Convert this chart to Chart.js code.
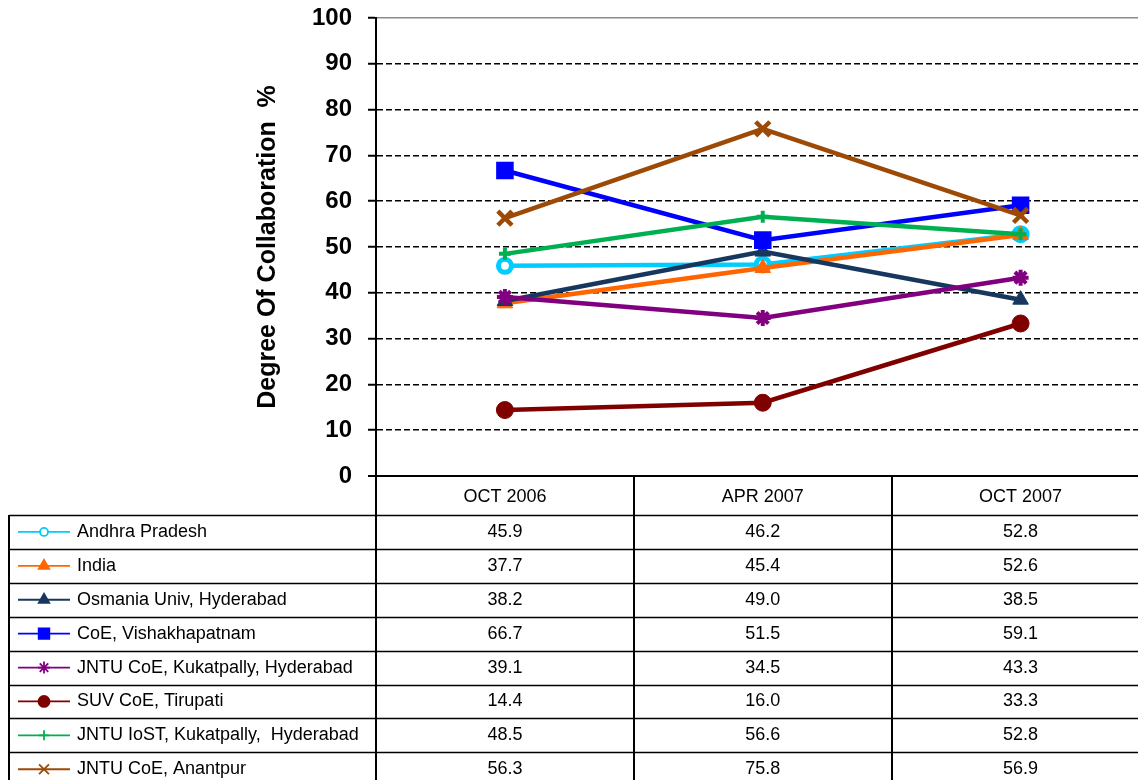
<!DOCTYPE html>
<html>
<head>
<meta charset="utf-8">
<title>Degree Of Collaboration</title>
<script src="https://cdn.jsdelivr.net/npm/chart.js@4.4.1/dist/chart.umd.min.js"></script>
<style>
  html, body { margin: 0; padding: 0; background: #fff; overflow: hidden; }
  #wrap { width: 1164px; height: 780px; }
</style>
</head>
<body>
<div id="wrap"><canvas id="collabChart" width="1164" height="780"></canvas></div>
<script>
'use strict';

// Data
const periods = ['OCT 2006', 'APR 2007', 'OCT 2007'];
const seriesNames = [
  'Andhra Pradesh',
  'India',
  'Osmania Univ, Hyderabad',
  'CoE, Vishakhapatnam',
  'JNTU CoE, Kukatpally, Hyderabad',
  'SUV CoE, Tirupati',
  'JNTU IoST, Kukatpally,  Hyderabad',
  'JNTU CoE, Anantpur'
];
const andhraPradesh = [45.9, 46.2, 52.8];
const india = [37.7, 45.4, 52.6];
const osmaniaUniv = [38.2, 49.0, 38.5];
const coeVishakhapatnam = [66.7, 51.5, 59.1];
const jntuCoeKukatpally = [39.1, 34.5, 43.3];
const suvCoeTirupati = [14.4, 16.0, 33.3];
const jntuIostKukatpally = [48.5, 56.6, 52.8];
const jntuCoeAnantpur = [56.3, 75.8, 56.9];
const yTicks = [0, 10, 20, 30, 40, 50, 60, 70, 80, 90, 100];

// Styles
const seriesValues = [andhraPradesh, india, osmaniaUniv, coeVishakhapatnam,
  jntuCoeKukatpally, suvCoeTirupati, jntuIostKukatpally, jntuCoeAnantpur];
const colors = ['#00CCFF', '#FF6600', '#17375E', '#0000FF', '#800080', '#800000', '#00B050', '#9C4A06'];
const pointStyles = ['circle', 'triangle', 'triangle', 'rect', 'star', 'circle', 'cross', 'crossRot'];
const pointRadii = [6.5, 9, 9, 11, 8, 8.5, 6, 10];
const pointBorders = [5, 1, 1, 2, 4, 1, 4, 4.5];
const keyRadii = [4, 6, 6, 7.5, 6, 5.5, 5, 7];
const font = 'Arial, "Liberation Sans", sans-serif';
const headerHeight = 39;
const rowHeight = 33.9;
const tableLeft = 9;

function buildDatasets() {
  return seriesNames.map(function(name, i) {
    return {
      label: name,
      data: seriesValues[i],
      borderColor: colors[i],
      backgroundColor: colors[i],
      borderWidth: 4.5,
      pointStyle: pointStyles[i],
      pointRadius: pointRadii[i],
      pointHoverRadius: pointRadii[i],
      pointBorderWidth: pointBorders[i],
      pointBorderColor: colors[i],
      pointBackgroundColor: i === 0 ? '#ffffff' : colors[i],
      tension: 0,
      order: seriesNames.length - i
    };
  });
}

// Data table under the plot
const dataTablePlugin = {
  id: 'dataTable',
  afterDraw(chart) {
    const ctx = chart.ctx;
    const xs = chart.scales.x;
    const top = chart.chartArea.bottom;
    const right = chart.width;
    const bottom = chart.height;
    const half = (xs.getPixelForValue(1) - xs.getPixelForValue(0)) / 2;
    const bodyTop = top + headerHeight;

    ctx.save();
    ctx.strokeStyle = '#000';

    // horizontal rules
    ctx.lineWidth = 1.5;
    for (let k = 0; k <= seriesNames.length; k++) {
      const y = Math.round(bodyTop + k * rowHeight) + 0.5;
      ctx.beginPath();
      ctx.moveTo(tableLeft, y);
      ctx.lineTo(right, y);
      ctx.stroke();
    }

    // vertical rules
    ctx.lineWidth = 2;
    ctx.beginPath();
    ctx.moveTo(tableLeft, bodyTop);
    ctx.lineTo(tableLeft, bottom);
    ctx.moveTo(xs.left, top);
    ctx.lineTo(xs.left, bottom);
    for (let i = 0; i < periods.length; i++) {
      const x = Math.round(xs.getPixelForValue(i) + half);
      ctx.moveTo(x, top);
      ctx.lineTo(x, bottom);
    }
    ctx.stroke();

    // rows
    ctx.font = '18px ' + font;
    ctx.textBaseline = 'middle';
    chart.data.datasets.forEach(function(ds, r) {
      const y = bodyTop + (r + 0.5) * rowHeight;
      ctx.strokeStyle = ds.borderColor;
      ctx.fillStyle = ds.borderColor;
      ctx.lineWidth = 1.8;
      ctx.beginPath();
      ctx.moveTo(18, y);
      ctx.lineTo(70, y);
      ctx.stroke();
      if (r === 0) {
        ctx.fillStyle = '#fff';
      }
      if (Chart.helpers && Chart.helpers.drawPoint) {
        Chart.helpers.drawPoint(ctx, {
          pointStyle: ds.pointStyle,
          radius: keyRadii[r],
          borderWidth: 1.8,
          rotation: 0
        }, 44, y);
      }
      ctx.fillStyle = '#000';
      ctx.textAlign = 'left';
      ctx.fillText(ds.label, 77, y);
      ctx.textAlign = 'center';
      ds.data.forEach(function(v, i) {
        ctx.fillText(v.toFixed(1), xs.getPixelForValue(i), y);
      });
    });
    ctx.restore();
  }
};

const ctx = document.getElementById('collabChart').getContext('2d');

const lineChart = new Chart(ctx, {
  type: 'line',
  data: {
    labels: periods,
    datasets: buildDatasets()
  },
  options: {
    responsive: false,
    animation: false,
    devicePixelRatio: 1,
    layout: { padding: { top: 18, right: 0, bottom: 0, left: 0 } },
    plugins: {
      legend: { display: false },
      tooltip: { enabled: false }
    },
    scales: {
      x: {
        offset: true,
        grid: { display: false, drawTicks: false },
        border: { display: true, color: '#000', width: 2 },
        ticks: {
          color: '#000',
          padding: 10,
          font: { family: font, size: 18 },
          maxRotation: 0
        },
        afterFit(scale) {
          scale.height = 304;
        }
      },
      y: {
        min: 0,
        max: 100,
        afterBuildTicks(scale) {
          scale.ticks = yTicks.map(v => ({ value: v }));
        },
        grid: {
          color: c => (c.tick && c.tick.value === 100 ? '#8c8c8c' : '#000'),
          lineWidth: c => (c.tick && c.tick.value === 0 ? 2 : 1.5),
          tickColor: '#000',
          tickLength: 8,
          tickWidth: 2
        },
        border: {
          display: true,
          color: '#000',
          width: 2,
          dash: c => (c.tick && (c.tick.value === 100 || c.tick.value === 0) ? [] : [6, 3])
        },
        ticks: {
          color: '#000',
          padding: 16,
          font: { family: font, size: 24, weight: 'bold' }
        },
        title: {
          display: true,
          text: 'Degree Of Collaboration  %',
          color: '#000',
          font: { family: font, size: 25, weight: 'bold' },
          padding: { top: 253, bottom: 0 }
        },
        afterFit(scale) {
          scale.width = 376;
          scale.paddingTop = 0;
          scale.paddingBottom = 0;
        }
      }
    }
  },
  plugins: [dataTablePlugin]
});
</script>
</body>
</html>
